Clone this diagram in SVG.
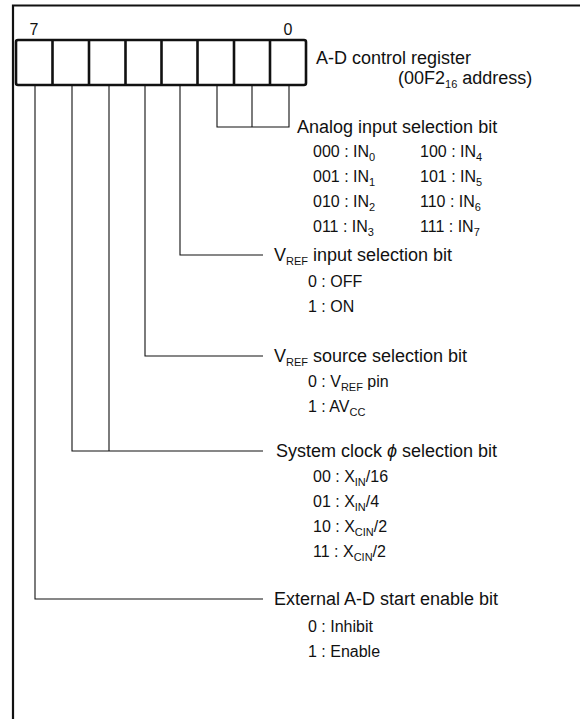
<svg xmlns="http://www.w3.org/2000/svg" width="581" height="719" viewBox="0 0 581 719">
<style>
text{font-family:"Liberation Sans",Arial,sans-serif;fill:#111;}
.h{font-size:18px;}
.r{font-size:16px;}
.s{font-size:11px;}
.frame{stroke:#111;stroke-width:2.2;fill:none;}
.cell{stroke:#111;stroke-width:2.6;fill:#fff;}
.lead{stroke:#111;stroke-width:1.1;fill:none;}
</style>
<rect width="581" height="719" fill="#fff"/>
<g id="frame">
<path class="frame" d="M13 719 V5.5 H580"/>
</g>
<g id="register">
<text class="r" x="34" y="35" text-anchor="middle">7</text>
<text class="r" x="288" y="35" text-anchor="middle">0</text>
<rect class="cell" x="16" y="40" width="290" height="45" rx="2"/>
<path class="cell" d="M52.5 40V85M89 40V85M125.5 40V85M161.5 40V85M197.5 40V85M234 40V85M270 40V85"/>
<text class="h" x="316" y="64">A-D control register</text>
<text class="h" x="398" y="84">(00F2<tspan class="s" dy="4">16</tspan><tspan dy="-4"> address)</tspan></text>
</g>
<g id="connectors">
<path class="lead" d="M289 85V127H217V85M252 85V127"/>
<path class="lead" d="M180 85V255H263"/>
<path class="lead" d="M145 85V356H263"/>
<path class="lead" d="M109 85V451M72 85V451H263"/>
<path class="lead" d="M35 85V599H263"/>
</g>
<g id="analog">
<text class="h" x="297" y="133">Analog input selection bit</text>
<text class="r" x="313" y="157">000 : IN<tspan class="s" dy="4">0</tspan></text>
<text class="r" x="313" y="182">001 : IN<tspan class="s" dy="4">1</tspan></text>
<text class="r" x="313" y="207">010 : IN<tspan class="s" dy="4">2</tspan></text>
<text class="r" x="313" y="232">011 : IN<tspan class="s" dy="4">3</tspan></text>
<text class="r" x="420" y="157">100 : IN<tspan class="s" dy="4">4</tspan></text>
<text class="r" x="420" y="182">101 : IN<tspan class="s" dy="4">5</tspan></text>
<text class="r" x="420" y="207">110 : IN<tspan class="s" dy="4">6</tspan></text>
<text class="r" x="420" y="232">111 : IN<tspan class="s" dy="4">7</tspan></text>
</g>
<g id="vref-input">
<text class="h" x="274" y="261">V<tspan class="s" dy="4">REF</tspan><tspan dy="-4"> input selection bit</tspan></text>
<text class="r" x="308" y="287">0 : OFF</text>
<text class="r" x="308" y="312">1 : ON</text>
</g>
<g id="vref-source">
<text class="h" x="274" y="362">V<tspan class="s" dy="4">REF</tspan><tspan dy="-4"> source selection bit</tspan></text>
<text class="r" x="308" y="387">0 : V<tspan class="s" dy="4">REF</tspan><tspan dy="-4"> pin</tspan></text>
<text class="r" x="308" y="412">1 : AV<tspan class="s" dy="4">CC</tspan></text>
</g>
<g id="system-clock">
<text class="h" x="276" y="457">System clock <tspan font-style="italic">ϕ</tspan> selection bit</text>
<text class="r" x="313" y="482">00 : X<tspan class="s" dy="4">IN</tspan><tspan dy="-4">/16</tspan></text>
<text class="r" x="313" y="507">01 : X<tspan class="s" dy="4">IN</tspan><tspan dy="-4">/4</tspan></text>
<text class="r" x="313" y="532">10 : X<tspan class="s" dy="4">CIN</tspan><tspan dy="-4">/2</tspan></text>
<text class="r" x="313" y="557">11 : X<tspan class="s" dy="4">CIN</tspan><tspan dy="-4">/2</tspan></text>
</g>
<g id="external-start">
<text class="h" x="274" y="605">External A-D start enable bit</text>
<text class="r" x="308" y="632">0 : Inhibit</text>
<text class="r" x="308" y="657">1 : Enable</text>
</g>
</svg>
